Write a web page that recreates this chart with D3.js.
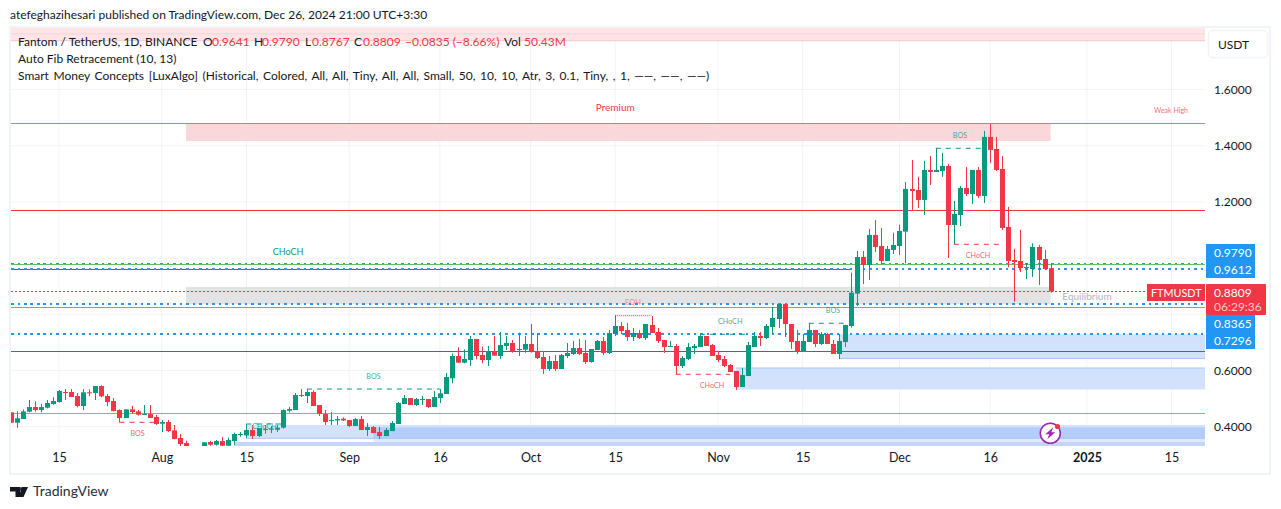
<!DOCTYPE html>
<html>
<head>
<meta charset="utf-8">
<script src="https://d3js.org/d3.v7.min.js"></script>
<style>
  html, body { margin: 0; padding: 0; background: #fff; overflow: hidden; }
  text { font-family: Lato, "Noto Sans", sans-serif; }
</style>
</head>
<body>
<svg id="chart" width="1281" height="509"></svg>
<script>
// daily candles, one per day starting at firstDay
var firstDay = "2024-07-07";
var opens = [
  .451,.4142,.4273,.4534,.47,.4594,.4677,.4807,.4878,.5235,.5235,.5092,.4736,.5223,.5199,.5448,.5092,.4914,.4594,.4309,.4617,.4546,.4427,.4451,.4344,
  .4107,.4166,.387,.3596,.3418,.30,.31,.30,.3454,.3359,.3489,.3323,.3489,.3703,.3691,.3881,.3667,.3917,.3893,.3893,.3964,.4569,.4593,.5127,.5092,.5234,.4771,.4451,.4201,.4225,.4285,
  .4237,.4023,.4273,.3881,.3988,.381,.3667,.3845,.4095,.4807,.502,.4771,.4961,.4985,.47,.502,.5163,.5722,.6516,.6278,.6373,.7121,.6551,.6373,.6694,.6516,.6872,.6979,.6741,.6741,
  .6943,.6694,.648,.6053,.6338,.6053,.6516,.6587,.6801,.6623,.6302,.6729,.705,.6623,.7299,.7584,.7442,.7192,.7335,.7157,.762,.737,.7086,.6836,.6872,.616,.6409,.6801,.6836,.7228,.6907,
  .6551,.6409,.6195,.5982,.5412,.5803,.6836,.7228,.7157,.7548,.7833,.8367,.7655,.705,.6658,.7014,.7442,.6943,.7299,.6943,.6587,.7014,.7584,.8735,1.0041,.9756,1.0824,1.0432,.9898,1.029,
  1.0432,1.0942,1.2461,1.2425,1.2069,1.3137,1.3066,1.3102,1.328,1.1179,1.1535,1.2496,1.2283,1.3137,1.2212,1.4313,1.3885,1.3173,1.1108,.9934,.9898,.9661,.9613,1.0397,.9969,.9641
];
var highs = [
  .451,.4546,.4617,.495,.4902,.4807,.495,.5045,.5306,.5341,.5341,.5199,.5341,.533,.5448,.5472,.5163,.5021,.4617,.4617,.4736,.4594,.4772,.4772,.4416,
  .4238,.4238,.4059,.3739,.3502,.32,.325,.3444,.3489,.3525,.3632,.3608,.3786,.381,.4095,.4059,.3952,.4059,.4023,.4059,.4617,.47,.5198,.5341,.5341,.5293,.4771,.4593,.4522,.438,.4332,
  .4237,.4308,.438,.413,.4023,.3988,.3952,.4201,.4878,.5127,.502,.502,.5092,.4985,.527,.5341,.5911,.6611,.6824,.6753,.7228,.7121,.6848,.6872,.7228,.737,.7228,.7086,.7347,.7228,
  .7655,.7335,.6694,.6516,.6551,.6587,.6979,.705,.7121,.7086,.6765,.7086,.7192,.7442,.7976,.7727,.7691,.7513,.7442,.7655,.794,.7513,.7086,.705,.6943,.6516,.6979,.6943,.7299,.7228,.6943,
  .6694,.6516,.6231,.5982,.6088,.7014,.737,.737,.7655,.8261,.8367,.8367,.7655,.7442,.7299,.7691,.7442,.737,.7335,.7086,.7299,.762,.9483,1.0254,1.0254,1.1036,1.1357,1.1072,1.0432,1.0906,
  1.119,1.271,1.3494,1.2888,1.3458,1.3636,1.3921,1.3743,1.3351,1.2033,1.2568,1.3244,1.3137,1.3244,1.4526,1.4775,1.4313,1.3636,1.182,1.0325,1.1001,.9815,1.0527,1.0468,1.029,.979
];
var lows = [
  .4142,.3965,.4273,.451,.4534,.451,.4653,.4783,.4855,.495,.5057,.4688,.4594,.5092,.495,.5045,.4736,.4546,.4154,.4309,.4451,.4392,.4416,.4309,.4059,
  .381,.381,.3549,.3312,.28,.27,.29,.29,.3323,.3323,.33,.33,.3347,.3644,.3596,.356,.3632,.375,.3774,.381,.3929,.451,.4593,.5056,.4842,.4736,.438,.4059,.4059,.4059,.4201,
  .3988,.4023,.3881,.3667,.3774,.356,.3667,.3845,.4095,.4807,.4771,.4736,.4771,.4664,.47,.4842,.5163,.5544,.6278,.6255,.616,.6397,.6255,.616,.6528,.6409,.6729,.6634,.6516,.6634,
  .6634,.6409,.5875,.5982,.5982,.6053,.6444,.6551,.6551,.6231,.6278,.6729,.6551,.6587,.7228,.7299,.705,.705,.7121,.7086,.7335,.6979,.6623,.6836,.5851,.6088,.6373,.6587,.6836,.6872,.6516,
  .6302,.6124,.5946,.5305,.5412,.5803,.6836,.6872,.7121,.7299,.7513,.7192,.6765,.6587,.6658,.7014,.6836,.6907,.6943,.6587,.6409,.6836,.7524,.8296,.9079,.9222,1.0219,.9791,.9898,1.0147,
  1.0115,.9815,1.1713,1.1784,1.1535,1.2603,1.3066,1.2888,1.0005,1.0492,1.1143,1.2212,1.1927,1.214,1.1962,1.3387,1.3102,1.0999,.9673,.845,.9506,.9257,.9328,.9043,.9578,.8767
];
var closes = [
  .4142,.4297,.4546,.47,.4594,.47,.4843,.4914,.527,.5211,.5057,.4736,.5223,.5199,.5448,.508,.4878,.4558,.4309,.4617,.4522,.4427,.4451,.4309,.4095,
  .4166,.3846,.3561,.3383,.30,.31,.30,.3444,.3359,.3489,.3323,.3525,.3739,.3739,.3881,.3667,.3952,.3881,.3929,.3964,.4593,.4629,.5127,.5104,.5234,.4736,.4451,.4166,.4237,.4273,.4225,
  .4023,.4273,.3881,.3988,.3774,.3667,.3881,.413,.4842,.502,.4771,.4985,.4985,.47,.5056,.5187,.5768,.6516,.6278,.6409,.7121,.6516,.6373,.6694,.6528,.6907,.6979,.6694,.6765,.6943,
  .6658,.6444,.6053,.6338,.6053,.6551,.6623,.6801,.6587,.6302,.6765,.705,.6623,.7335,.7584,.7406,.7192,.7335,.7157,.7655,.7335,.705,.6836,.6872,.616,.6444,.6836,.6872,.7228,.6872,.6516,
  .6373,.616,.5946,.5412,.5839,.6907,.7228,.7157,.7584,.7869,.8367,.7655,.7014,.6658,.705,.7442,.6943,.7299,.6943,.6587,.705,.762,.877,1.0041,.9756,1.0824,1.0397,.9898,1.0325,1.0468,
  1.0966,1.2461,1.239,1.2069,1.3137,1.3066,1.3137,1.328,1.1179,1.1571,1.2496,1.2283,1.3137,1.2212,1.4313,1.385,1.3137,1.1072,.9898,.9862,.9649,.9684,1.0397,.9934,.9613,.8809
];

// axes
var priceTicks = [0.4, 0.6, 0.8, 1.0, 1.2, 1.4, 1.6];
var timeTicks = ["2024-07-15","2024-08-01","2024-08-15","2024-09-01","2024-09-16","2024-10-01","2024-10-15","2024-11-01","2024-11-15","2024-12-01","2024-12-16","2025-01-01","2025-01-15"];
var timeLabels = ["15","Aug","15","Sep","16","Oct","15","Nov","15","Dec","16","2025","15"];

// horizontal levels
var violetLevel = [1.4775];
var redLevels = [1.17];
var greenLevels = [0.9775, 0.8249];
var tealLevels = [0.668];
var skyLevels = [0.4478];
var fibLevels = [0.979, 0.9612, 0.8365, 0.7296];
var lastClose = [0.8809];

// zones: start, end, top price, bottom price
var premiumZone = [["2024-08-05","2024-12-26",1.4775,1.4167]];
var topZone = [["2024-07-01","2025-02-01",1.8223,1.7736]];
var equilibriumZone = [["2024-08-05","2024-12-26",0.8975,0.8365]];
var demandZones = [
  ["2024-11-21","2025-02-01",0.7296,0.6427],
  ["2024-11-04","2025-02-01",0.6089,0.5324],
  ["2024-08-15","2025-02-01",0.4061,0.3587]
];
var lowerBands = [
  ["2024-09-05","2025-02-01",0.3587,0.3455],
  ["2024-08-13","2025-02-01",0.3455,0.32]
];
var strongDemandZones = [["2024-09-05","2025-02-01",0.3979,0.3587]];

// structure breaks: start, end, price, label, label date, label price
var bullBreaks = [
  ["2024-08-15","2024-08-21",0.4095,"CHoCH","2024-08-18",0.4],
  ["2024-08-25","2024-09-16",0.5341,"BOS","2024-09-05",0.576],
  ["2024-10-29","2024-11-06",0.7288,"CHoCH","2024-11-03",0.772],
  ["2024-11-16","2024-11-22",0.768,"BOS","2024-11-20",0.811],
  ["2024-12-07","2024-12-15",1.3907,"BOS","2024-12-11",1.4355]
];
var bearBreaks = [
  ["2024-07-25","2024-07-31",0.4157,"BOS","2024-07-28",0.372],
  ["2024-10-25","2024-11-03",0.5865,"CHoCH","2024-10-31",0.5445],
  ["2024-12-10","2024-12-18",1.0491,"CHoCH","2024-12-14",1.0055]
];
var eqh = [["2024-10-15","2024-10-21",0.795]];
var longChoch = [["2024-07-01","2024-11-23",0.9612]];

var parseDay = d3.utcParse("%Y-%m-%d");
var green = "#089981", red = "#f23645", blue = "#2196f3", ink = "#131722", gridColor = "#f0f3fa";
var tealLine = "#128a7a";
var labelSize = "12px";

var pane = { left: 11, right: 1205, top: 28, bottom: 446 };

var x = d3.scaleUtc().domain([parseDay("2024-07-15"), parseDay("2024-12-26")]).range([59, 1050.6]);
var y = d3.scaleLinear().domain([0.4, 1.6]).range([426.7, 89.5]);

var candles = opens.map(function(o, i) {
  return { date: d3.utcDay.offset(parseDay(firstDay), i), o: o, h: highs[i], l: lows[i], c: closes[i] };
});

var svg = d3.select("#chart");

// frame
svg.append("rect").attr("x", 10).attr("y", 27).attr("width", 1260).attr("height", 447)
  .attr("fill", "#fff").attr("stroke", gridColor).attr("stroke-width", 2);

svg.append("defs").append("clipPath").attr("id", "paneClip").append("rect")
  .attr("x", pane.left).attr("y", pane.top)
  .attr("width", pane.right - pane.left).attr("height", pane.bottom - pane.top);

var plot = svg.append("g").attr("clip-path", "url(#paneClip)");

// grid
plot.selectAll("line.vgrid").data(timeTicks).join("line").classed("vgrid", true)
  .attr("x1", function(d) { return x(parseDay(d)); }).attr("x2", function(d) { return x(parseDay(d)); })
  .attr("y1", pane.top).attr("y2", pane.bottom)
  .style("stroke", gridColor);
plot.selectAll("line.hgrid").data(priceTicks).join("line").classed("hgrid", true)
  .attr("x1", pane.left).attr("x2", pane.right)
  .attr("y1", function(d) { return y(d); }).attr("y2", function(d) { return y(d); })
  .style("stroke", gridColor);

function drawZones(rows, fill, opacity) {
  var g = plot.append("g");
  g.selectAll("rect").data(rows).join("rect")
    .attr("x", function(d) { return x(parseDay(d[0])); })
    .attr("width", function(d) { return x(parseDay(d[1])) - x(parseDay(d[0])); })
    .attr("y", function(d) { return y(d[2]); })
    .attr("height", function(d) { return y(d[3]) - y(d[2]); })
    .style("fill", fill).style("fill-opacity", opacity);
  return g;
}

function drawLevels(prices, color, width, dash) {
  plot.append("g").selectAll("line").data(prices).join("line")
    .attr("x1", pane.left).attr("x2", pane.right)
    .attr("y1", function(d) { return y(d); }).attr("y2", function(d) { return y(d); })
    .attr("shape-rendering", "crispEdges")
    .style("stroke", color).style("stroke-width", width).style("stroke-dasharray", dash || null);
}

drawZones(topZone, "#fde4e6", 1);
plot.append("line").attr("x1", pane.left).attr("x2", pane.right)
  .attr("y1", y(topZone[0][3])).attr("y2", y(topZone[0][3])).style("stroke", "#f9c6cb");
plot.append("line").attr("x1", pane.left).attr("x2", pane.right)
  .attr("y1", y(1.7979)).attr("y2", y(1.7979)).style("stroke", "#f9d3d7");

drawZones(premiumZone, "#fad7db", 1);
drawZones(equilibriumZone, "#e2e3e5", 1);
drawZones(demandZones, "#d3e2fc", 1);
drawZones(lowerBands.slice(0, 1), "#dfe9fd", 1);
drawZones(lowerBands.slice(1), "#c5d5f6", 1);
drawZones(strongDemandZones, "#b5cdfa", 1);
// zone edges
var edge = plot.append("g");
edge.selectAll("line").data(demandZones).join("line")
  .attr("x1", function(d) { return x(parseDay(d[0])); }).attr("x2", pane.right)
  .attr("y1", function(d, i) { return y(i == 1 ? d[2] : d[3]); })
  .attr("y2", function(d, i) { return y(i == 1 ? d[2] : d[3]); })
  .style("stroke", "#a9c5f5").style("stroke-width", 1);

drawLevels(violetLevel, "#7e97c8", 1);
drawLevels(redLevels, red, 1);
drawLevels(skyLevels, "#64b5f6", 1);
drawLevels(tealLevels, tealLine, 1);

// long CHoCH line
plot.append("g").selectAll("line").data(longChoch).join("line")
  .attr("x1", function(d) { return x(parseDay(d[0])); }).attr("x2", function(d) { return x(parseDay(d[1])); })
  .attr("y1", function(d) { return y(d[2]); }).attr("y2", function(d) { return y(d[2]); })
  .attr("shape-rendering", "crispEdges")
  .style("stroke", tealLine).style("stroke-width", 1);

drawLevels(fibLevels, blue, 2, "2.5 4");
drawLevels(greenLevels, "#66bb6a", 1);
drawLevels(lastClose, red, 1, "2 2");

// candles
var candleG = plot.append("g");
candleG.selectAll("line.wick").data(candles).join("line").classed("wick", true)
  .attr("x1", function(d) { return Math.round(x(d.date)) + 0.5; })
  .attr("x2", function(d) { return Math.round(x(d.date)) + 0.5; })
  .attr("y1", function(d) { return y(d.h); })
  .attr("y2", function(d) { return y(d.l); })
  .style("stroke", function(d) { return d.c >= d.o ? green : red; });
candleG.selectAll("rect.body").data(candles).join("rect").classed("body", true)
  .attr("x", function(d) { return Math.round(x(d.date)) - 2; })
  .attr("width", 5)
  .attr("y", function(d) { return y(Math.max(d.o, d.c)); })
  .attr("height", function(d) { return Math.max(1, Math.abs(y(d.o) - y(d.c))); })
  .style("fill", function(d) { return d.c >= d.o ? green : red; });

// structure lines and labels
function drawBreaks(rows, color, dash) {
  var g = plot.append("g");
  g.selectAll("line").data(rows).join("line")
    .attr("x1", function(d) { return x(parseDay(d[0])); }).attr("x2", function(d) { return x(parseDay(d[1])); })
    .attr("y1", function(d) { return y(d[2]); }).attr("y2", function(d) { return y(d[2]); })
    .style("stroke", color).style("stroke-width", 1).style("stroke-dasharray", dash);
  g.selectAll("text").data(rows.filter(function(d) { return d[3]; })).join("text")
    .attr("x", function(d) { return x(parseDay(d[4])); })
    .attr("y", function(d) { return y(d[5]); })
    .attr("text-anchor", "middle").attr("dominant-baseline", "middle")
    .style("font-size", "7.2px").style("fill", color).style("fill-opacity", 0.8)
    .text(function(d) { return d[3]; });
}
drawBreaks(bullBreaks, green, "5 5");
drawBreaks(bearBreaks, red, "5 5");
drawBreaks(eqh, red, "1 1");

// big labels
function paneText(px, py, str, size, color, anchor, op) {
  return plot.append("text").attr("x", px).attr("y", py).attr("dominant-baseline", "middle")
    .attr("text-anchor", anchor || "middle").style("font-size", size + "px").style("fill", color)
    .style("fill-opacity", op || 1).text(str);
}
paneText(x(parseDay("2024-10-15")), y(1.534), "Premium", 10, red);
paneText(1171, y(1.5235), "Weak High", 7, red, "middle", 0.75);
paneText(288, y(1.0185), "CHoCH", 9, green);
paneText(1087, y(0.8585), "Equilibrium", 10, "#b2b5be");
paneText(633, y(0.84), "EQH", 7.5, red, "middle", 0.6);

// flash icon
var flash = plot.append("g").attr("transform", "translate(1050.3,433.3)");
flash.append("circle").attr("r", 10).style("fill", "#fff").style("stroke", "#9c27b0").style("stroke-width", 1.6);
flash.append("path").attr("d", "M3 -6 L-5 1 L-1 1 L-3 6 L5 -1 L1 -1 Z").style("fill", "#9c27b0");
flash.append("circle").attr("cx", 7.2).attr("cy", -6.8).attr("r", 2.6).style("fill", red);

// axes
var xAxis = d3.axisBottom(x)
  .tickValues(timeTicks.map(parseDay))
  .tickFormat(function(d, i) { return timeLabels[i]; })
  .tickSize(0).tickPadding(7);
var xg = svg.append("g").attr("transform", "translate(0," + pane.bottom + ")").call(xAxis);
xg.select(".domain").remove();
xg.selectAll("text").style("font-size", "12.5px").style("fill", ink)
  .style("font-family", "Lato")
  .style("font-weight", function(d, i) { return timeLabels[i] == "2025" ? 700 : 400; });

var yAxis = d3.axisRight(y)
  .tickValues(priceTicks.filter(function(d) { return d != 1.0 && d != 0.8; }))
  .tickFormat(d3.format(".4f"))
  .tickSize(0).tickPadding(9);
var yg = svg.append("g").attr("transform", "translate(" + pane.right + ",0)").call(yAxis);
yg.select(".domain").remove();
yg.selectAll("text").style("font-size", labelSize).style("font-family", "Lato").style("fill", ink);

// currency button
svg.append("rect").attr("x", 1208.5).attr("y", 30.5).attr("width", 59).attr("height", 27).attr("rx", 4)
  .style("fill", "#fff").style("stroke", gridColor).style("stroke-width", 1.5);
svg.append("text").attr("x", 1218).attr("y", 49).text("USDT").style("font-size", labelSize).style("fill", ink);

// price tags
var tagPrices = [0.979, 0.9612, 0.8365, 0.7296];
var tagTops = [244, 261, 315, 332];
svg.append("g").selectAll("rect").data(tagPrices).join("rect")
  .attr("x", 1206).attr("width", 49).attr("height", 17)
  .attr("y", function(d, i) { return tagTops[i]; })
  .style("fill", blue);
svg.append("g").selectAll("text").data(tagPrices).join("text")
  .attr("x", 1214).attr("y", function(d, i) { return tagTops[i] + 13; })
  .style("font-size", labelSize).style("fill", "#fff")
  .text(d3.format(".4f"));

svg.append("rect").attr("x", 1147).attr("y", 284).attr("width", 58).attr("height", 17).style("fill", red);
svg.append("text").attr("x", 1151).attr("y", 296.5).style("font-size", "10.8px").style("fill", "#fff").text("FTMUSDT");
svg.append("rect").attr("x", 1206).attr("y", 284).attr("width", 60).attr("height", 31).attr("rx", 1).style("fill", red);
svg.append("text").attr("x", 1214).attr("y", 297).style("font-size", labelSize).style("fill", "#fff").text(d3.format(".4f")(lastClose[0]));
svg.append("text").attr("x", 1214).attr("y", 311).style("font-size", labelSize).style("fill", "#fff").style("fill-opacity", 0.72).text("06:29:36");

// header and legend
svg.append("text").attr("x", 10).attr("y", 19).style("font-size", labelSize).style("fill", ink)
  .text("atefeghazihesari published on TradingView.com, Dec 26, 2024 21:00 UTC+3:30");

var legendParts = [
  [18, "Fantom / TetherUS, 1D, BINANCE", ink],
  [203, "O", ink], [212, "0.9641", red],
  [254, "H", ink], [262, "0.9790", red],
  [305, "L", ink], [312, "0.8767", red],
  [354, "C", ink], [363, "0.8809", red],
  [405, "\u22120.0835 (\u22128.66%)", red],
  [504, "Vol", ink], [524, "50.43M", red]
];
svg.append("g").selectAll("text").data(legendParts).join("text")
  .attr("x", function(d) { return d[0]; }).attr("y", 46)
  .style("font-size", labelSize).style("fill", function(d) { return d[2]; })
  .text(function(d) { return d[1]; });
svg.append("text").attr("x", 18).attr("y", 63).style("font-size", labelSize).style("fill", ink)
  .text("Auto Fib Retracement (10, 13)");
svg.append("text").attr("x", 18).attr("y", 80).style("font-size", labelSize).style("fill", ink).style("word-spacing", "1.5px")
  .text("Smart Money Concepts [LuxAlgo] (Historical, Colored, All, All, Tiny, All, All, Small, 50, 10, 10, Atr, 3, 0.1, Tiny, , 1, \u2014\u2014, \u2014\u2014, \u2014\u2014)");

// footer logo
svg.append("path").attr("d", "M10 487 H20.5 V497 H15.5 V491.5 H10 Z M28 487 L23.5 497 H18.5 L23 487 Z").style("fill", ink);
svg.append("circle").attr("cx", 22.5).attr("cy", 489.2).attr("r", 2.2).style("fill", ink);
svg.append("text").attr("x", 33).attr("y", 496).style("font-size", "14px").style("fill", "#2a2e39").text("TradingView");
</script>
</body>
</html>
